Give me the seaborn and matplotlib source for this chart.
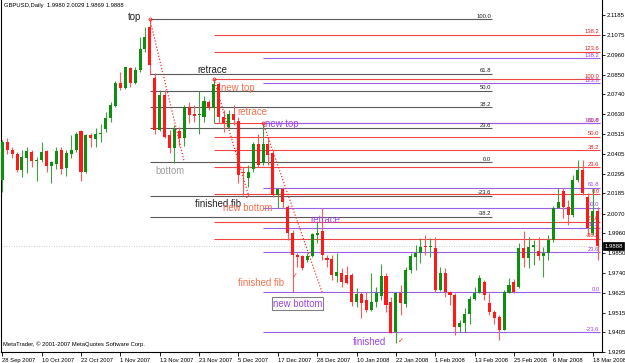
import matplotlib
matplotlib.use("Agg")
import matplotlib.pyplot as plt
import matplotlib.transforms as mtransforms
import seaborn as sns
import numpy as np
import pandas as pd

sns.set_theme(style="white")
plt.rcParams['font.family'] = ['Liberation Sans', 'DejaVu Sans']

# ---------------- data ----------------
opens = [2.0259, 2.0471, 2.0427, 2.0405, 2.0315, 2.0384, 2.0418, 2.0367, 2.0371, 2.0420,
         2.0339, 2.0349, 2.0427, 2.0325, 2.0405, 2.0427, 2.0536, 2.0302, 2.0512, 2.0489,
         2.0516, 2.0545, 2.0609, 2.0676, 2.0802, 2.0777, 2.0889, 2.0802, 2.0876, 2.0992,
         2.1119, 2.0830, 2.0540, 2.0736, 2.0512, 2.0437, 2.0536, 2.0493, 2.0670, 2.0629,
         2.0622, 2.0614, 2.0698, 2.0661, 2.0798, 2.0614, 2.0558, 2.0629, 2.0592, 2.0306,
         2.0269, 2.0319, 2.0461, 2.0353, 2.0461, 2.0409, 2.0175, 2.0209, 2.0109, 1.9960,
         1.9838, 1.9834, 1.9810, 1.9833, 1.9951, 1.9973, 1.9820, 1.9814, 1.9722, 1.9736,
         1.9726, 1.9726, 1.9577, 1.9620, 1.9586, 1.9530, 1.9577, 1.9608, 1.9721, 1.9577,
         1.9408, 1.9627, 1.9564, 1.9754, 1.9829, 1.9848, 1.9889, 1.9883, 1.9876, 1.9642,
         1.9736, 1.9633, 1.9614, 1.9433, 1.9459, 1.9507, 1.9590, 1.9627, 1.9689, 1.9567,
         1.9520, 1.9489, 1.9418, 1.9627, 1.9689, 1.9661, 1.9876, 1.9820, 1.9885, 1.9863,
         1.9833, 1.9851, 1.9923, 2.0104, 2.0197, 2.0109, 2.0063, 2.0259, 2.0315, 2.0162,
         1.9960, 2.0085]
highs = [2.0484, 2.0493, 2.0446, 2.0418, 2.0427, 2.0446, 2.0427, 2.0390, 2.0474, 2.0427,
         2.0367, 2.0443, 2.0443, 2.0427, 2.0512, 2.0530, 2.0540, 2.0517, 2.0521, 2.0549,
         2.0573, 2.0642, 2.0698, 2.0816, 2.0867, 2.0895, 2.0891, 2.0891, 2.1063, 2.1116,
         2.1161, 2.0858, 2.0764, 2.0764, 2.0540, 2.0568, 2.0558, 2.0680, 2.0698, 2.0680,
         2.0758, 2.0730, 2.0708, 2.0826, 2.0811, 2.0652, 2.0652, 2.0680, 2.0614, 2.0334,
         2.0343, 2.0474, 2.0517, 2.0579, 2.0502, 2.0427, 2.0213, 2.0222, 2.0119, 1.9979,
         1.9848, 1.9838, 1.9848, 1.9964, 2.0025, 2.0100, 1.9838, 1.9838, 1.9848, 1.9764,
         1.9777, 1.9736, 1.9652, 1.9633, 1.9633, 1.9736, 1.9661, 1.9788, 1.9736, 1.9605,
         1.9633, 1.9670, 1.9773, 1.9848, 1.9895, 1.9932, 1.9951, 1.9932, 1.9938, 1.9769,
         1.9764, 1.9638, 1.9624, 1.9474, 1.9539, 1.9608, 1.9661, 1.9726, 1.9698, 1.9624,
         1.9530, 1.9502, 1.9642, 1.9708, 1.9702, 1.9904, 1.9973, 1.9941, 1.9923, 1.9938,
         1.9885, 1.9951, 2.0113, 2.0213, 2.0213, 2.0147, 2.0287, 2.0371, 2.0371, 2.0185,
         2.0213, 2.0105]
lows = [2.0193, 2.0405, 2.0381, 2.0306, 2.0278, 2.0300, 2.0330, 2.0255, 2.0362, 2.0306,
        2.0241, 2.0319, 2.0291, 2.0283, 2.0381, 2.0418, 2.0255, 2.0297, 2.0446, 2.0446,
        2.0474, 2.0530, 2.0586, 2.0670, 2.0764, 2.0768, 2.0779, 2.0798, 2.0863, 2.0979,
        2.0848, 2.0517, 2.0536, 2.0493, 2.0409, 2.0353, 2.0450, 2.0450, 2.0577, 2.0586,
        2.0517, 2.0586, 2.0652, 2.0577, 2.0577, 2.0530, 2.0549, 2.0568, 2.0241, 2.0175,
        2.0222, 2.0306, 2.0334, 2.0343, 2.0343, 2.0166, 2.0100, 2.0100, 1.9923, 1.9629,
        1.9773, 1.9754, 1.9801, 1.9829, 1.9904, 1.9810, 1.9773, 1.9698, 1.9689, 1.9661,
        1.9676, 1.9552, 1.9548, 1.9483, 1.9520, 1.9526, 1.9548, 1.9586, 1.9520, 1.9403,
        1.9343, 1.9502, 1.9548, 1.9736, 1.9754, 1.9792, 1.9838, 1.9829, 1.9633, 1.9636,
        1.9605, 1.9558, 1.9390, 1.9408, 1.9408, 1.9451, 1.9586, 1.9624, 1.9586, 1.9502,
        1.9451, 1.9362, 1.9418, 1.9624, 1.9627, 1.9652, 1.9773, 1.9764, 1.9782, 1.9810,
        1.9717, 1.9810, 1.9913, 2.0100, 2.0044, 2.0007, 2.0053, 2.0250, 2.0175, 1.9951,
        1.9951, 1.9810]
closes = [2.0471, 2.0427, 2.0405, 2.0315, 2.0386, 2.0422, 2.0367, 2.0373, 2.0415, 2.0338,
          2.0358, 2.0422, 2.0319, 2.0409, 2.0427, 2.0517, 2.0302, 2.0512, 2.0493, 2.0517,
          2.0525, 2.0609, 2.0680, 2.0802, 2.0777, 2.0891, 2.0802, 2.0876, 2.0992, 2.1060,
          2.0904, 2.0540, 2.0736, 2.0502, 2.0437, 2.0544, 2.0493, 2.0670, 2.0624, 2.0620,
          2.0628, 2.0704, 2.0661, 2.0798, 2.0614, 2.0577, 2.0629, 2.0596, 2.0287, 2.0297,
          2.0302, 2.0461, 2.0343, 2.0461, 2.0399, 2.0175, 2.0209, 2.0137, 1.9960, 1.9838,
          1.9829, 1.9764, 1.9834, 1.9956, 1.9964, 1.9838, 1.9810, 1.9726, 1.9741, 1.9689,
          1.9683, 1.9577, 1.9620, 1.9567, 1.9530, 1.9577, 1.9627, 1.9721, 1.9558, 1.9403,
          1.9627, 1.9567, 1.9754, 1.9833, 1.9848, 1.9885, 1.9882, 1.9885, 1.9642, 1.9736,
          1.9633, 1.9614, 1.9436, 1.9459, 1.9507, 1.9590, 1.9624, 1.9708, 1.9614, 1.9520,
          1.9483, 1.9418, 1.9633, 1.9670, 1.9633, 1.9879, 1.9820, 1.9885, 1.9893, 1.9833,
          1.9851, 1.9923, 2.0104, 2.0134, 2.0109, 2.0063, 2.0259, 2.0315, 2.0185, 1.9990,
          2.0085, 1.9888]

date_labels = ["28 Sep 2007", "10 Oct 2007", "22 Oct 2007", "1 Nov 2007", "13 Nov 2007",
               "23 Nov 2007", "5 Dec 2007", "17 Dec 2007", "28 Dec 2007", "10 Jan 2008",
               "22 Jan 2008", "1 Feb 2008", "13 Feb 2008", "25 Feb 2008", "6 Mar 2008",
               "18 Mar 2008"]
date_label_bars = [0, 8, 16, 24, 32, 40, 48, 56, 64, 72, 80, 88, 96, 104, 112, 120]

price_ticks = [2.1185, 2.1075, 2.0960, 2.0850, 2.0740, 2.0630, 2.0515, 2.0405, 2.0295,
               2.0185, 2.0070, 1.9960, 1.9850, 1.9740, 1.9625, 1.9515, 1.9405, 1.9295]

current_price = 1.9888
title_text = "GBPUSD,Daily  1.9980 2.0029 1.9869 1.9888"
footer_text = "MetaTrader, \u00a9 2001-2007 MetaQuotes Software Corp."

fib_levels = [138.2, 123.6, 100.0, 61.8, 50.0, 38.2, 23.6, 0.0, -23.6, -38.2]
# (price at 100 %, price at 0 %), anchor bars (start, end of swing)
black_fib = [2.1161, 2.0360]
black_fib_bars = [30, 37]
red_fib = [2.0826, 2.0178]
red_fib_bars = [43, 50]
purple_fib = [2.0579, 1.9629]
purple_fib_bars = [53, 65]

# ---------------- styles ----------------
GREEN = '#0f8f0f'
GREEN_W = '#3fa03f'
RED = '#ff1a1a'
RED_W = '#ff5a5a'
BLACK_FIB = '#5a5a5a'
RED_FIB = '#f04646'
PURPLE_FIB = '#9d5fe8'
SALMON = '#f4724f'
PURPLE_TXT = '#9b45e4'

W, H = 625, 363
fig = plt.figure(figsize=(W / 100, H / 100), dpi=100)
fig.patch.set_facecolor('white')
ax = fig.add_axes([1.5 / W, 11 / H, 600.5 / W, 352 / H])
ax.set_facecolor('white')

XMIN, XMAX = -0.16, 121.9
YMIN, YMAX = 1.9294, 2.1269
ax.set_xlim(XMIN, XMAX)
ax.set_ylim(YMIN, YMAX)

df = pd.DataFrame({'o': opens, 'h': highs, 'l': lows, 'c': closes})
df['bar'] = np.arange(len(df))
df['up'] = df['c'] >= df['o']
df['body'] = (df['c'] - df['o']).abs().clip(lower=0.0006)
df['bottom'] = df[['o', 'c']].min(axis=1)

# current price dotted line
ax.axhline(current_price, color='#b8b8b8', lw=0.6, ls=(0, (1, 2)), zorder=1)

# fib levels
def draw_fib(anchor, bars, x_end, color, lab_color, lw=0.8):
    p100, p0 = anchor
    for lv in fib_levels:
        p = p0 + (p100 - p0) * lv / 100.0
        if p > YMAX:
            continue
        ax.hlines(p, bars[0], x_end, color=color, lw=lw, zorder=1)
        if p > YMIN - 0.004:
            ax.text(x_end - 0.1, p + 0.0002, f"{lv:.1f}", ha='right', va='bottom',
                    fontsize=4.2, color=lab_color, clip_on=True, zorder=5)
    ax.plot(bars, [p100, p0], color='#ff3030', lw=0.9, ls=(0, (1, 1.5)), zorder=6)
    ax.plot([bars[0]], [p100], marker='o', ms=2.2, mfc='none', mec='#ff3030', mew=0.6, zorder=6)

draw_fib(black_fib, black_fib_bars, 99.5, BLACK_FIB, '#202020')
draw_fib(red_fib, red_fib_bars, 121.5, RED_FIB, '#e02020')
draw_fib(purple_fib, purple_fib_bars, 121.5, PURPLE_FIB, PURPLE_TXT)

# candles
for up, body_c, wick_c in [(True, GREEN, GREEN_W), (False, RED, RED_W)]:
    d = df[df['up'] == up]
    ax.vlines(d['bar'], d['l'], d['h'], color=wick_c, lw=0.8, zorder=3)
    ax.bar(d['bar'], d['body'], bottom=d['bottom'], width=0.62, color=body_c,
           linewidth=0, zorder=4)

# annotation texts (bar, price)
labels = [
    ("top", 25.5, 2.1175, '#222222', None),
    ("retrace", 39.7, 2.0874, '#222222', None),
    ("new top", 44.5, 2.0775, SALMON, None),
    ("retrace", 47.7, 2.0638, SALMON, None),
    ("new top", 53.4, 2.0573, PURPLE_TXT, None),
    ("bottom", 31.2, 2.0312, '#a0a0a0', None),
    ("finished fib", 39.1, 2.0126, '#222222', None),
    ("new bottom", 44.8, 2.0103, SALMON, None),
    ("retrace", 62.7, 2.0036, PURPLE_TXT, None),
    ("finished fib", 47.9, 1.9681, SALMON, None),
    ("new bottom", 55.0, 1.9566, PURPLE_TXT, 'box'),
    ("finished", 71.3, 1.9348, PURPLE_TXT, None),
]
for txt, bx, py, col, box in labels:
    kw = {}
    if box:
        kw['bbox'] = dict(boxstyle='square,pad=0.12', fc='white', ec='#808080', lw=0.8)
    ax.text(bx, py, txt, ha='left', va='center', fontsize=6.9, color=col, zorder=7, **kw)

checks = [(50.0, 2.0165), (59.4, 1.9718), (81.0, 1.9356)]
for bx, py in checks:
    ax.text(bx, py, "\u2713", ha='center', va='center', fontsize=5, color='#ff2020',
            family=['DejaVu Sans'], zorder=7)

# title & footer
ax.text(0.004, 0.992, title_text, transform=ax.transAxes, ha='left', va='top',
        fontsize=4.2, color='black')
ax.text(0.003, 0.015, footer_text, transform=ax.transAxes, ha='left', va='bottom',
        fontsize=4.2, color='black')

# axes styling
ax.spines['top'].set_visible(False)
for s in ['left', 'right', 'bottom']:
    ax.spines[s].set_visible(True)
    ax.spines[s].set_color('black')
    ax.spines[s].set_linewidth(0.8)

ax.yaxis.tick_right()
ax.set_yticks(price_ticks)
ax.set_yticklabels([f"{p:.4f}" for p in price_ticks])
ax.tick_params(axis='y', which='both', right=True, left=False, direction='out', length=2.5,
               width=0.6, color='black', labelsize=4.3, pad=1.2, labelcolor='black')

ax.set_xticks(date_label_bars)
ax.set_xticklabels(date_labels)
ax.tick_params(axis='x', which='both', bottom=True, direction='out', length=3, width=0.6,
               color='black', labelsize=4.2, pad=1.2, labelcolor='black')
for lbl in ax.get_xticklabels():
    lbl.set_ha('left')
ax.grid(False)

# current price box on the axis
trans = mtransforms.blended_transform_factory(ax.transAxes, ax.transData)
ax.text(1.004, current_price, f"{current_price:.4f}", transform=trans, ha='left', va='center',
        fontsize=4.3, color='white', clip_on=False, zorder=10,
        bbox=dict(boxstyle='square,pad=0.2', fc='black', ec='black', lw=0.5))

fig.savefig("out.png", dpi=100, facecolor='white')
